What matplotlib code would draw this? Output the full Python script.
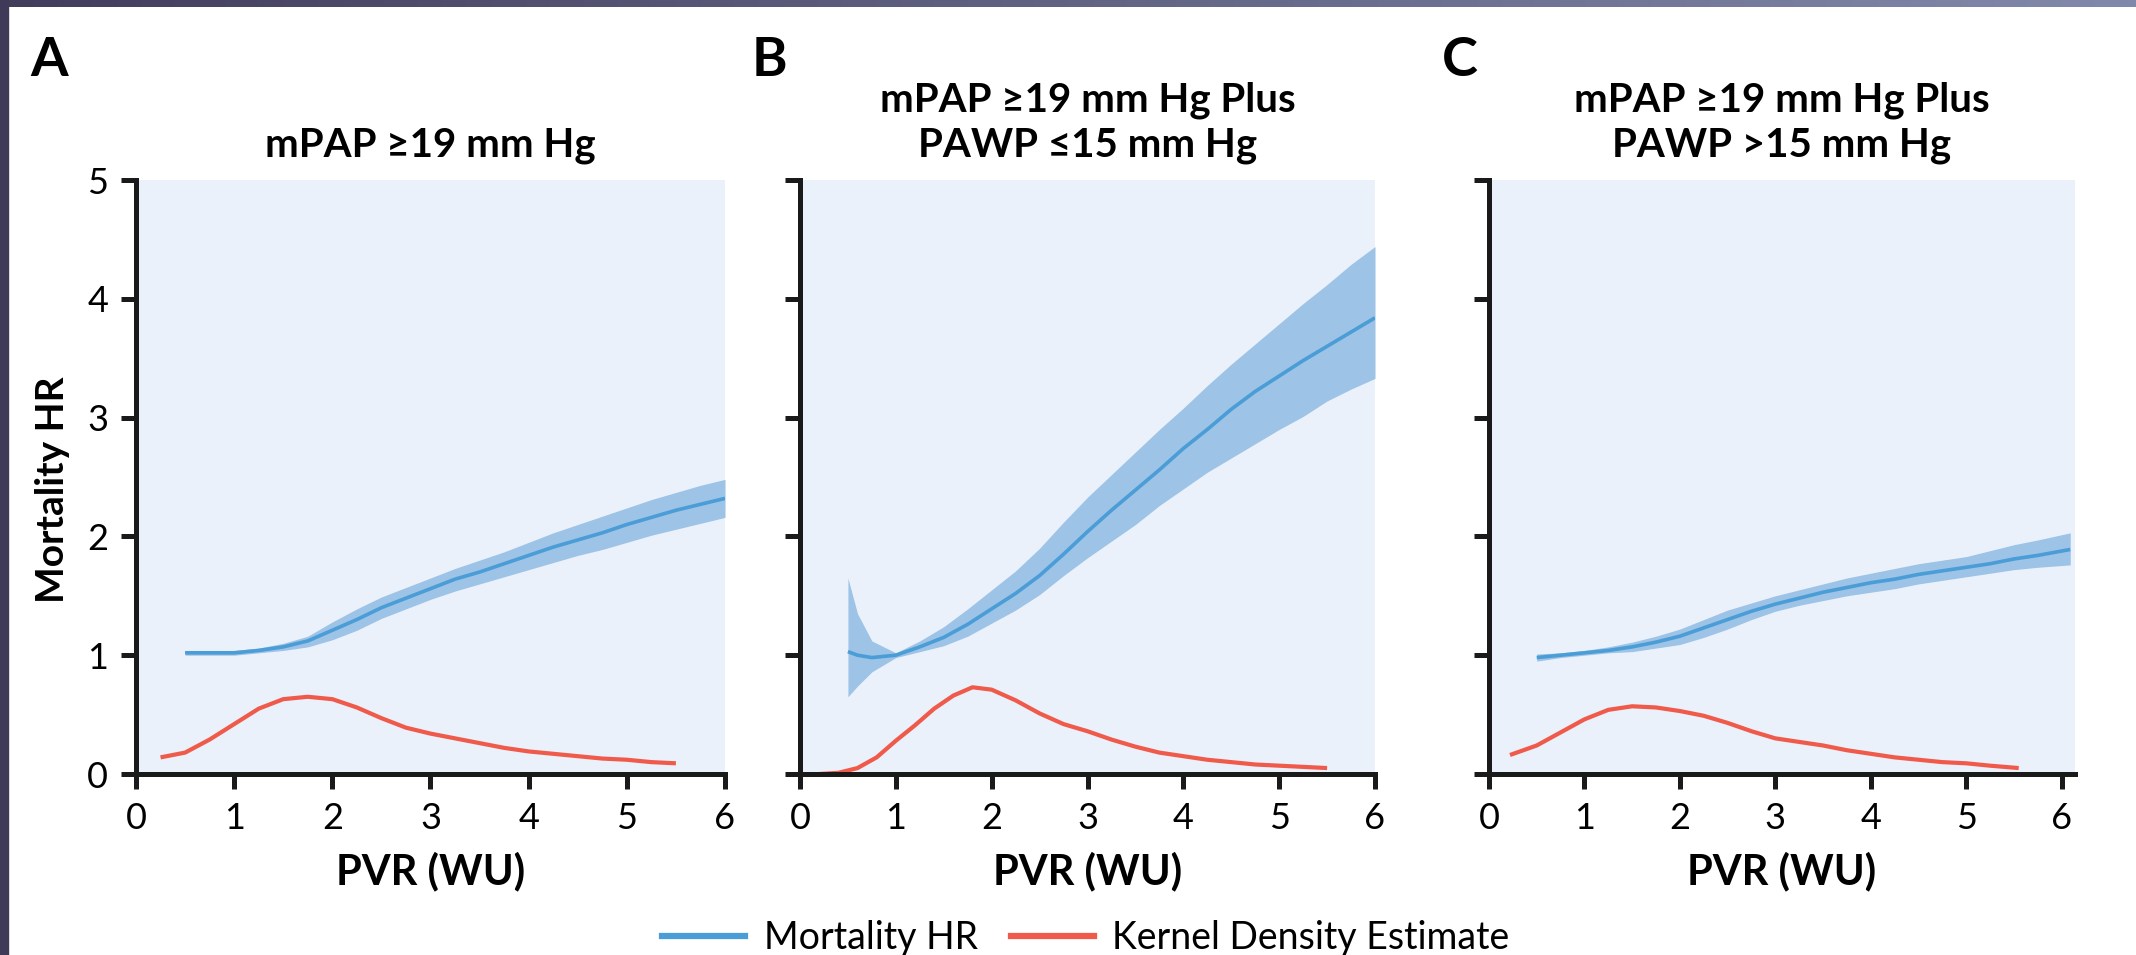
import numpy as np
import matplotlib
matplotlib.use("Agg")
import matplotlib.pyplot as plt
from matplotlib.lines import Line2D
from matplotlib.patches import Rectangle

plt.rcParams['font.family'] = ['Lato', 'DejaVu Sans']

# --- data ---
# Panel A: mPAP >=19
a_x = [0.5, 0.75, 1.0, 1.25, 1.5, 1.75, 2.0, 2.25, 2.5, 2.75, 3.0, 3.25, 3.5, 3.75, 4.0,
       4.25, 4.5, 4.75, 5.0, 5.25, 5.5, 5.75, 6.0]
a_hr = [1.02, 1.02, 1.02, 1.04, 1.07, 1.12, 1.21, 1.30, 1.40, 1.48, 1.56, 1.64, 1.70, 1.77, 1.84,
        1.91, 1.97, 2.03, 2.10, 2.16, 2.22, 2.27, 2.32]
a_lo = [1.00, 1.00, 1.00, 1.02, 1.04, 1.07, 1.13, 1.21, 1.31, 1.39, 1.47, 1.54, 1.60, 1.66, 1.72,
        1.78, 1.84, 1.89, 1.95, 2.01, 2.06, 2.11, 2.16]
a_hi = [1.04, 1.04, 1.04, 1.06, 1.10, 1.16, 1.28, 1.39, 1.49, 1.57, 1.65, 1.73, 1.80, 1.87, 1.95,
        2.03, 2.10, 2.17, 2.24, 2.31, 2.37, 2.43, 2.48]
a_kx = [0.25, 0.5, 0.75, 1.0, 1.25, 1.5, 1.75, 2.0, 2.25, 2.5, 2.75, 3.0, 3.25, 3.5, 3.75,
        4.0, 4.25, 4.5, 4.75, 5.0, 5.25, 5.5]
a_kde = [0.14, 0.18, 0.29, 0.42, 0.55, 0.63, 0.65, 0.63, 0.56, 0.47, 0.39, 0.34, 0.30, 0.26, 0.22,
         0.19, 0.17, 0.15, 0.13, 0.12, 0.10, 0.09]

# Panel B: mPAP >=19 plus PAWP <=15
b_x = [0.5, 0.6, 0.75, 1.0, 1.25, 1.5, 1.75, 2.0, 2.25, 2.5, 2.75, 3.0, 3.25, 3.5, 3.75, 4.0,
       4.25, 4.5, 4.75, 5.0, 5.25, 5.5, 5.75, 6.0]
b_hr = [1.03, 1.00, 0.98, 1.00, 1.07, 1.15, 1.26, 1.39, 1.52, 1.67, 1.85, 2.04, 2.22, 2.39, 2.56, 2.74,
        2.90, 3.07, 3.22, 3.35, 3.48, 3.60, 3.72, 3.84]
b_lo = [0.65, 0.74, 0.86, 0.98, 1.03, 1.08, 1.16, 1.27, 1.38, 1.51, 1.67, 1.82, 1.96, 2.10, 2.26, 2.40,
        2.54, 2.66, 2.78, 2.90, 3.01, 3.14, 3.24, 3.33]
b_hi = [1.65, 1.35, 1.12, 1.02, 1.12, 1.24, 1.39, 1.55, 1.71, 1.90, 2.12, 2.33, 2.52, 2.71, 2.90, 3.08,
        3.27, 3.45, 3.62, 3.79, 3.96, 4.12, 4.29, 4.44]
b_kx = [0.2, 0.4, 0.6, 0.8, 1.0, 1.2, 1.4, 1.6, 1.8, 2.0, 2.25, 2.5, 2.75, 3.0, 3.25, 3.5,
        3.75, 4.0, 4.25, 4.5, 4.75, 5.0, 5.25, 5.5]
b_kde = [0.0, 0.01, 0.05, 0.14, 0.28, 0.41, 0.55, 0.66, 0.73, 0.71, 0.62, 0.51, 0.42, 0.36, 0.29, 0.23,
         0.18, 0.15, 0.12, 0.10, 0.08, 0.07, 0.06, 0.05]

# Panel C: mPAP >=19 plus PAWP >15
c_x = [0.5, 0.75, 1.0, 1.25, 1.5, 1.75, 2.0, 2.25, 2.5, 2.75, 3.0, 3.25, 3.5, 3.75, 4.0,
       4.25, 4.5, 4.75, 5.0, 5.25, 5.5, 5.75, 6.09]
c_hr = [0.98, 1.00, 1.02, 1.04, 1.07, 1.11, 1.16, 1.23, 1.30, 1.37, 1.43, 1.48, 1.53, 1.57, 1.61,
        1.64, 1.68, 1.71, 1.74, 1.77, 1.81, 1.84, 1.89]
c_lo = [0.95, 0.98, 1.00, 1.02, 1.03, 1.06, 1.09, 1.15, 1.22, 1.30, 1.37, 1.42, 1.46, 1.50, 1.53,
        1.56, 1.60, 1.63, 1.66, 1.69, 1.72, 1.74, 1.76]
c_hi = [1.01, 1.02, 1.04, 1.07, 1.11, 1.16, 1.22, 1.30, 1.38, 1.44, 1.50, 1.55, 1.60, 1.65, 1.69,
        1.73, 1.77, 1.80, 1.83, 1.88, 1.93, 1.97, 2.03]
c_kx = [0.22, 0.5, 0.75, 1.0, 1.25, 1.5, 1.75, 2.0, 2.25, 2.5, 2.75, 3.0, 3.25, 3.5, 3.75,
        4.0, 4.25, 4.5, 4.75, 5.0, 5.25, 5.55]
c_kde = [0.16, 0.24, 0.35, 0.46, 0.54, 0.57, 0.56, 0.53, 0.49, 0.43, 0.36, 0.30, 0.27, 0.24, 0.20,
         0.17, 0.14, 0.12, 0.10, 0.09, 0.07, 0.05]

letters = ['A', 'B', 'C']
titles = ['mPAP \u226519 mm Hg',
          'mPAP \u226519 mm Hg Plus\nPAWP \u226415 mm Hg',
          'mPAP \u226519 mm Hg Plus\nPAWP >15 mm Hg']
x_ticks = [0, 1, 2, 3, 4, 5, 6]
y_ticks = [0, 1, 2, 3, 4, 5]

BG = '#EAF1FA'
BAND = '#9DC3E6'
BLUE = '#4A9DD6'
RED = '#F05A4A'

W, H = 2136, 955
fig = plt.figure(figsize=(W / 100, H / 100), dpi=100)

# frame decoration (dark strip on top and left)
top = fig.add_axes([0, 1 - 7 / H, 1, 7 / H])
top.imshow(np.linspace(0, 1, 256)[None, :], aspect='auto',
           cmap=matplotlib.colors.LinearSegmentedColormap.from_list('bar', ['#433D5C', '#8189AA']))
top.axis('off')
fig.add_artist(Rectangle((0, 0), 8 / W, 1, transform=fig.transFigure, color='#3F3A57', zorder=5))

# axes boxes in pixels: left, right, xmax
boxes = [(136, 725, 6.0), (800, 1375, 6.0), (1489, 2075, 6.14)]
panels = [(a_x, a_hr, a_lo, a_hi, a_kx, a_kde),
          (b_x, b_hr, b_lo, b_hi, b_kx, b_kde),
          (c_x, c_hr, c_lo, c_hi, c_kx, c_kde)]
letter_x = [30, 752, 1442]
y_top, y_bot = 180, 774

for i, ((l, r, xmax), (x, hr, lo, hi, kx, kde)) in enumerate(zip(boxes, panels)):
    ax = fig.add_axes([l / W, (H - y_bot) / H, (r - l) / W, (y_bot - y_top) / H])
    ax.set_facecolor(BG)
    ax.fill_between(x, lo, hi, color=BAND, lw=0, zorder=2)
    ax.plot(x, hr, color=BLUE, lw=2.6, zorder=3, solid_capstyle='butt')
    ax.plot(kx, kde, color=RED, lw=3.0, zorder=3, solid_capstyle='butt')
    ax.set_xlim(0, xmax)
    ax.set_ylim(0, 5)
    ax.set_xticks(x_ticks)
    ax.set_yticks(y_ticks)
    if i > 0:
        ax.set_yticklabels([])
    for s in ['top', 'right']:
        ax.spines[s].set_visible(False)
    for s in ['left', 'bottom']:
        ax.spines[s].set_linewidth(3.6)
        ax.spines[s].set_color('#1a1a1a')
        ax.spines[s].set_zorder(4)
    ax.tick_params(width=3.6, length=11, color='#1a1a1a', labelsize=26, pad=9)
    ax.set_xlabel('PVR (WU)', fontsize=30, fontweight='bold', labelpad=12)
    ax.set_title(titles[i], fontsize=29, fontweight='bold', pad=17, linespacing=1.25)
    fig.text(letter_x[i] / W, 1 - 61 / H, letters[i], fontsize=39, fontweight='bold',
             ha='left', va='center')

fig.text(52 / W, 1 - 490 / H, 'Mortality HR', rotation=90, fontsize=28, fontweight='bold',
         ha='center', va='center')

handles = [Line2D([], [], color=BLUE, lw=4.5), Line2D([], [], color=RED, lw=4.5)]
fig.legend(handles, ['Mortality HR', 'Kernel Density Estimate'], loc='center',
           bbox_to_anchor=(1086 / W, 1 - 938 / H), ncol=2, frameon=False, fontsize=27,
           handlelength=2.2, columnspacing=0.9, handletextpad=0.5)

fig.savefig('out.png', dpi=100, facecolor='white')
